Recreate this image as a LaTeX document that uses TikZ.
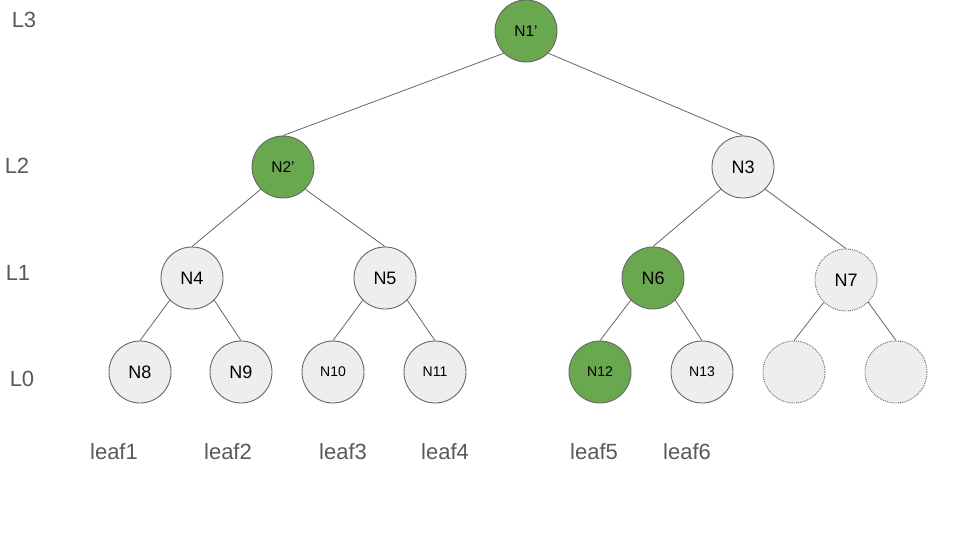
\documentclass[tikz,border=0pt]{standalone}
\usepackage{fontspec}
\setmainfont{Liberation Sans}
\definecolor{nodegreen}{HTML}{6AA84F}
\definecolor{nodegray}{HTML}{EEEEEE}
\definecolor{linegray}{HTML}{666666}
\definecolor{textgray}{HTML}{595959}
\tikzset{
  tnode/.style={circle, draw=linegray, line width=0.9pt, minimum size=62pt, inner sep=0pt, fill=nodegray, text=black},
  green/.style={fill=nodegreen},
  ghost/.style={densely dotted},
  big/.style={font=\fontsize{18}{21}\selectfont},
  mid/.style={font=\fontsize{15.5}{18}\selectfont},
  small/.style={font=\fontsize{14}{17}\selectfont},
  lvl/.style={text=textgray, font=\fontsize{22}{26}\selectfont, inner sep=0pt},
  edge/.style={draw=linegray, line width=0.8pt},
}
\begin{document}
\begin{tikzpicture}[x=1pt,y=-1pt]
\useasboundingbox (0,0) rectangle (960,540);
% level labels
\node[lvl] (l3) at (24,20) {L3};
\node[lvl] (l2) at (17,166) {L2};
\node[lvl] (l1) at (18,273) {L1};
\node[lvl] (l0) at (22,379) {L0};
% tree nodes
\node[tnode,green,mid] (n1) at (526,31) {N1’};
\node[tnode,green,mid] (n2) at (283,167) {N2’};
\node[tnode,big] (n3) at (743,167) {N3};
\node[tnode,big] (n4) at (192,278) {N4};
\node[tnode,big] (n5) at (385,278) {N5};
\node[tnode,green,big] (n6) at (653,278) {N6};
\node[tnode,ghost,big] (n7) at (846,280) {N7};
\node[tnode,big] (n8) at (140,372) {N8};
\node[tnode,big] (n9) at (241,372) {N9};
\node[tnode,small] (n10) at (333,372) {N10};
\node[tnode,small] (n11) at (435,372) {N11};
\node[tnode,green,small] (n12) at (600,372) {N12};
\node[tnode,small] (n13) at (702,372) {N13};
\node[tnode,ghost] (e1) at (794,372) {};
\node[tnode,ghost] (e2) at (896,372) {};
% edges
\draw[edge] (n1.south west) -- (n2.north);
\draw[edge] (n1.south east) -- (n3.north);
\draw[edge] (n2.south west) -- (n4.north);
\draw[edge] (n2.south east) -- (n5.north);
\draw[edge] (n3.south west) -- (n6.north);
\draw[edge] (n3.south east) -- (n7.north);
\draw[edge] (n4.south west) -- (n8.north);
\draw[edge] (n4.south east) -- (n9.north);
\draw[edge] (n5.south west) -- (n10.north);
\draw[edge] (n5.south east) -- (n11.north);
\draw[edge] (n6.south west) -- (n12.north);
\draw[edge] (n6.south east) -- (n13.north);
\draw[edge] (n7.south west) -- (e1.north);
\draw[edge] (n7.south east) -- (e2.north);
% leaf labels
\node[lvl] (f1) at (114,452) {leaf1};
\node[lvl] (f2) at (228,452) {leaf2};
\node[lvl] (f3) at (343,452) {leaf3};
\node[lvl] (f4) at (445,452) {leaf4};
\node[lvl] (f5) at (594,452) {leaf5};
\node[lvl] (f6) at (687,452) {leaf6};
\end{tikzpicture}
\end{document}
